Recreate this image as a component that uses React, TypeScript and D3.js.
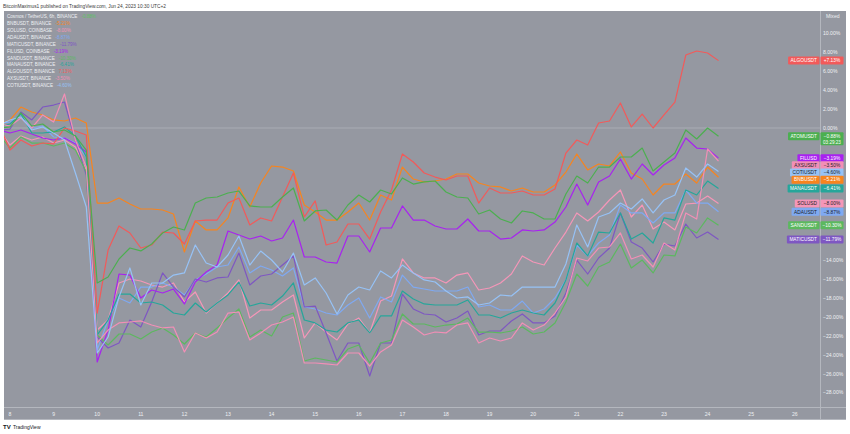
import React from 'react';
import * as d3 from 'd3';

// 6h bars from 2023-06-07 18:00 UTC, percent change
const ATOM = [0, 0.11, 1.59, 0.21, 0.42, -0.42, -0.21, -0.85, -2.33,
  -16.40, -15.77, -13.86, -12.70, -13.01, -12.28, -11.11, -10.48, -10.79, -7.94,
  -7.41, -7.30, -6.88, -6.67, -8.25, -8.36, -8.36, -7.30, -6.35, -9.84,
  -8.78, -8.68, -9.74, -8.15, -7.09, -7.83, -6.56, -6.98, -5.29, -5.93,
  -5.71, -5.61, -6.77, -7.30, -7.41, -9.10, -8.68, -9.63, -10.05, -8.78,
  -8.99, -9.63, -9.63, -6.98, -5.08, -5.82, -4.13, -4.13, -3.07, -3.07,
  -2.12, -4.55, -3.60, -2.65, -0.21, -1.16, 0, -0.88];
const BNB = [0.42, 0.85, 2.22, 1.69, 1.38, 0.85, 0.74, 1.06, 0.53,
  -7.94, -7.94, -7.41, -8.04, -8.57, -8.57, -8.68, -9.10, -13.12, -9.84,
  -10.79, -10.79, -9.52, -6.24, -8.36, -5.82, -4.02, -4.13, -4.55, -8.15,
  -8.89, -9.74, -9.74, -8.89, -7.94, -9.74, -7.09, -7.62, -4.13, -5.40,
  -5.71, -5.61, -5.40, -4.87, -4.87, -5.82, -6.14, -6.24, -6.67, -6.35,
  -6.77, -6.77, -6.03, -4.66, -2.75, -4.44, -3.81, -4.02, -2.54, -4.76,
  -5.40, -7.09, -5.93, -5.93, -4.87, -5.82, -4.13, -5.21];
const SOL = [-0.21, -1.80, -0.85, -1.27, -0.95, -1.59, -1.27, -2.01, -4.44,
  -21.38, -20.32, -16.40, -15.98, -16.19, -16.61, -16.83, -16.40, -18.41, -17.35,
  -19.58, -18.52, -17.46, -16.08, -20.11, -19.26, -19.26, -18.41, -17.67, -22.22,
  -20.63, -21.59, -22.43, -20.74, -20.11, -21.69, -18.31, -17.78, -13.86, -15.34,
  -15.87, -15.87, -16.40, -15.56, -15.34, -17.14, -16.93, -16.40, -15.45, -13.54,
  -14.18, -14.50, -12.70, -11.01, -8.99, -9.84, -8.89, -7.62, -6.56, -9.42,
  -8.15, -10.69, -9.95, -10.79, -8.04, -7.94, -7.20, -8.00];
const ADA = [0.53, 0.63, 1.38, 0, 0.21, -0.95, -1.06, -1.59, -3.07,
  -23.49, -20.32, -17.99, -18.52, -16.83, -16.83, -16.40, -16.83, -17.67, -16.08,
  -15.45, -14.71, -14.50, -12.59, -15.34, -14.60, -15.03, -15.66, -14.81, -18.94,
  -19.15, -19.58, -19.79, -18.73, -17.99, -20.11, -17.88, -18.41, -15.56, -16.83,
  -17.04, -17.25, -17.25, -17.25, -16.83, -18.94, -18.73, -19.26, -19.26, -18.31,
  -19.58, -19.15, -17.99, -16.08, -12.38, -13.54, -12.17, -11.32, -8.15, -8.99,
  -8.99, -10.05, -8.99, -8.99, -6.56, -7.94, -7.94, -8.87];
const MATIC = [-0.21, -0.11, 1.69, 0.85, 2.22, 2.43, 2.75, -1.27, -4.97,
  -22.12, -23.28, -22.75, -20.32, -21.06, -18.41, -15.34, -16.83, -17.88, -15.98,
  -16.30, -15.87, -15.77, -13.23, -16.61, -15.66, -15.45, -14.50, -13.54, -18.94,
  -18.84, -21.69, -24.66, -22.75, -22.75, -26.24, -22.75, -22.75, -17.57, -19.15,
  -19.68, -19.79, -20.53, -20.11, -19.37, -21.90, -21.48, -21.48, -20.42, -19.68,
  -20.63, -20.63, -19.89, -17.46, -13.97, -15.45, -13.76, -12.70, -8.99, -12.06,
  -12.70, -14.18, -12.28, -12.49, -10.16, -11.64, -11.01, -11.79];
const FIL = [-0.21, -0.53, -0.21, -0.63, -1.06, -1.27, -1.06, -1.69, -2.54,
  -24.76, -21.38, -15.45, -15.56, -17.99, -17.14, -17.46, -17.04, -18.62, -16.30,
  -15.24, -14.50, -10.90, -11.32, -11.75, -11.43, -11.96, -11.64, -9.74, -13.65,
  -13.65, -14.18, -14.29, -11.43, -11.43, -13.12, -10.58, -10.58, -8.25, -9.74,
  -9.74, -10.37, -10.69, -10.69, -9.63, -10.90, -10.90, -11.75, -11.64, -10.79,
  -10.90, -10.79, -9.95, -8.36, -5.93, -8.15, -5.71, -5.08, -3.28, -5.40,
  -3.81, -4.97, -3.92, -3.17, -1.06, -2.12, -2.22, -3.19];
const SAND = [-0.74, -2.12, -0.95, -1.59, -1.59, -1.90, -1.59, -2.33, -4.66,
  -21.90, -22.96, -21.80, -21.80, -22.33, -21.59, -21.16, -21.90, -22.86, -21.69,
  -22.12, -21.16, -20.11, -19.15, -22.12, -21.38, -22.01, -20.00, -19.58, -24.66,
  -24.34, -24.55, -24.76, -23.39, -22.96, -24.87, -22.75, -22.43, -19.68, -20.74,
  -20.74, -21.06, -20.85, -20.74, -20.11, -21.59, -21.59, -21.69, -21.48, -21.06,
  -21.80, -21.59, -20.63, -18.41, -15.45, -16.72, -14.71, -14.18, -12.28, -14.82,
  -13.97, -15.34, -13.44, -13.54, -10.48, -11.11, -9.52, -10.30];
const MANA = [0.11, 0.42, 1.48, -0.53, -0.53, -0.42, 0.11, -0.85, -3.07,
  -21.90, -20.32, -17.57, -17.57, -18.52, -18.41, -18.73, -19.58, -19.79, -18.52,
  -19.47, -18.52, -17.67, -16.30, -18.84, -18.52, -18.73, -17.78, -16.40, -20.32,
  -20.63, -21.38, -21.59, -20.63, -20.32, -21.69, -19.89, -19.89, -17.25, -18.10,
  -18.62, -18.73, -18.73, -18.73, -18.20, -19.79, -19.79, -20.11, -19.58, -19.26,
  -19.58, -19.79, -18.52, -16.08, -12.17, -13.54, -11.01, -11.11, -8.99, -11.75,
  -11.11, -12.17, -9.52, -9.74, -6.56, -7.09, -5.61, -6.41];
const ALGO = [0.32, -2.33, -1.27, -1.90, -1.59, -1.69, 0, -0.32, -0.74,
  -19.58, -12.91, -10.37, -11.11, -12.70, -12.38, -11.01, -11.11, -12.28, -9.84,
  -9.74, -9.74, -7.94, -7.41, -10.26, -9.52, -9.84, -7.30, -4.76, -9.42,
  -7.72, -12.38, -12.06, -10.16, -10.16, -11.75, -8.89, -6.56, -2.75, -3.60,
  -4.76, -5.19, -5.50, -5.08, -5.08, -7.94, -6.35, -6.88, -6.88, -6.67,
  -7.09, -7.09, -6.46, -2.65, -1.27, -1.80, 0.53, 0.74, 2.65, 0.11,
  1.48, 0, 1.38, 2.75, 7.72, 8.15, 7.94, 7.13];
const AXS = [0.42, 0.21, 1.06, 0, 1.38, 0.63, 3.60, -1.27, -4.13,
  -22.75, -21.38, -20.63, -20.53, -20.42, -20.85, -21.16, -21.06, -23.70, -21.69,
  -22.22, -21.59, -19.58, -19.47, -22.43, -21.69, -20.85, -20.53, -20.00, -24.87,
  -24.87, -24.97, -25.08, -23.81, -23.81, -25.19, -23.70, -22.96, -20.32, -21.06,
  -21.90, -21.59, -21.69, -20.85, -20.63, -22.75, -22.22, -22.54, -22.22, -20.63,
  -21.38, -20.85, -19.58, -17.88, -13.76, -14.07, -12.70, -12.59, -11.11, -13.86,
  -13.44, -14.71, -12.17, -12.91, -8.99, -9.63, -2.22, -3.50];
const COTI = [0.32, 0.85, 1.16, -0.21, 0.11, -0.53, -1.27, -4.76, -8.36,
  -23.81, -22.12, -17.88, -14.81, -18.73, -16.40, -16.40, -15.56, -15.34, -12.38,
  -14.29, -14.71, -13.44, -11.43, -14.50, -13.02, -13.97, -15.24, -13.23, -16.61,
  -15.87, -17.46, -19.68, -17.67, -16.83, -17.14, -15.13, -15.87, -14.50, -15.34,
  -16.08, -16.30, -17.25, -17.99, -17.88, -18.73, -18.52, -17.67, -17.78, -16.83,
  -16.83, -16.83, -16.83, -14.39, -10.26, -12.59, -9.42, -8.99, -7.94, -8.57,
  -7.51, -8.99, -7.62, -7.09, -4.23, -5.19, -3.81, -4.60];

const SERIES_NAMES = ['BNBUSDT, BINANCE', 'SOLUSD, COINBASE', 'ADAUSDT, BINANCE', 'MATICUSDT, BINANCE', 'FILUSD, COINBASE', 'SANDUSDT, BINANCE', 'MANAUSDT, BINANCE', 'ALGOUSDT, BINANCE', 'AXSUSDT, BINANCE', 'COTIUSDT, BINANCE'];
const TAG_NAMES = ['BNBUSDT', 'SOLUSD', 'ADAUSDT', 'MATICUSDT', 'FILUSD', 'SANDUSDT', 'MANAUSDT', 'ALGOUSDT', 'AXSUSDT', 'COTIUSDT'];
const SERIES_VALUES = [BNB, SOL, ADA, MATIC, FIL, SAND, MANA, ALGO, AXS, COTI];
const SERIES_COLORS = ['#f7841e', '#f596b8', '#7fa9f2', '#7e57c2', '#a822f0', '#5cb85f', '#26a69a', '#f25a5a', '#f28fb6', '#96c2f6'];
const LIGHT_TAG = [false, true, true, false, false, false, false, false, true, true];
const MAIN_NAME = 'Cosmos / TetherUS, 6h, BINANCE';
const MAIN_COLOR = '#4caf50';
const DAY_TICKS = [8, 9, 10, 11, 12, 13, 14, 15, 16, 17, 18, 19, 20, 21, 22, 23, 24, 25, 26];
const PCT_TICKS = [10, 8, 6, 4, 2, 0, -2, -4, -6, -8, -10, -12, -14, -16, -18, -20, -22, -24, -26, -28];

const START = Date.UTC(2023, 5, 7, 18);
const STEP = 6 * 3600 * 1000;

const FONT = "'Liberation Sans', Arial, sans-serif";
const BG = '#9598a1';
const TEXT = '#eef0f3';

const fmt = (v: number) => (v < 0 ? '\u2212' : '') + Math.abs(v).toFixed(2) + '%';
const fmtLeg = (v: number) => (v < 0 ? '-' : '') + Math.abs(v).toFixed(2) + '%';

let ctx: CanvasRenderingContext2D | null = null;
function measure(t: string, size: number) {
  if (!ctx) ctx = document.createElement('canvas').getContext('2d');
  if (!ctx) return t.length * size * 0.55;
  ctx.font = `${size}px ${FONT}`;
  return ctx.measureText(t).width;
}

export default function App() {
  const L = 4, R = 846, T = 11, B = 420, PR = 820, PB = 407;
  const x = d3.scaleUtc()
    .domain([new Date(Date.UTC(2023, 5, 8)), new Date(Date.UTC(2023, 5, 26))])
    .range([10, 794.8]);
  const y = d3.scaleLinear().domain([0, -28]).range([128, 392.6]);
  const line = d3.line<number>()
    .x((_, i) => x(new Date(START + i * STEP)))
    .y((d) => y(d));

  const all = [
    ...SERIES_VALUES.map((vals, k) => ({ vals, color: SERIES_COLORS[k], tag: TAG_NAMES[k], light: LIGHT_TAG[k], main: false })),
    { vals: ATOM, color: MAIN_COLOR, tag: 'ATOMUSDT', light: false, main: true },
  ];

  // tag placement with overlap avoidance
  const tags = all.map((s) => {
    const last = s.vals[s.vals.length - 1];
    return { ...s, last, ty: y(last) };
  }).sort((a, b) => a.ty - b.ty);
  for (let i = 1; i < tags.length; i++) {
    const gap = tags[i - 1].main ? 14 : 7.2;
    if (tags[i].ty < tags[i - 1].ty + gap) tags[i].ty = tags[i - 1].ty + gap;
  }
  const covered = (py: number) => tags.some((t) => py > t.ty - 7 && py < t.ty + (t.main ? 12 : 7));

  const fs = 5.1;
  const lfs = 4.6;
  return (
    <svg width={850} height={434} style={{ position: 'absolute', left: 0, top: 0, display: 'block' }} fontFamily={FONT}>
      <rect x={0} y={0} width={850} height={434} fill="#ffffff" />
      <text x={3} y={7.5} fontSize={4.8} fill="#3a3a3a">BitcoinMaximus1 published on TradingView.com, Jun 24, 2023 10:30 UTC+2</text>
      <rect x={L} y={T} width={R - L} height={B - T} fill={BG} />
      <defs>
        <clipPath id="plot"><rect x={L} y={T} width={PR - L} height={PB - T} /></clipPath>
      </defs>
      {/* separators */}
      <line x1={PR + 0.5} x2={PR + 0.5} y1={T} y2={B} stroke="#b4b7be" strokeWidth={1} />
      <line x1={L} x2={R} y1={PB + 0.5} y2={PB + 0.5} stroke="#b4b7be" strokeWidth={1} />
      <line x1={L} x2={R} y1={B - 0.5} y2={B - 0.5} stroke="#b4b7be" strokeWidth={1} />
      {/* zero line */}
      <line x1={L} x2={PR} y1={y(0)} y2={y(0)} stroke="#a9acb4" strokeWidth={1} />
      <g clipPath="url(#plot)">
        {all.map((s, k) => (
          <path key={k} d={line(s.vals) || ''} fill="none" stroke={s.color} strokeWidth={1.2} strokeLinejoin="round" />
        ))}
      </g>
      {/* price axis */}
      <text x={826} y={18} fontSize={fs} fill={TEXT}>Mixed</text>
      {PCT_TICKS.filter((t) => !covered(y(t))).map((t) => (
        <text key={t} x={823} y={y(t) + 1.8} fontSize={fs} fill={TEXT}>{fmt(t)}</text>
      ))}
      {/* time axis */}
      {DAY_TICKS.map((d) => (
        <text key={d} x={x(new Date(Date.UTC(2023, 5, d)))} y={415.5} fontSize={fs} fill={TEXT} textAnchor="middle">{d}</text>
      ))}
      {/* tags */}
      {tags.map((s, k) => {
        const nw = measure(s.tag, 4.8) + 5;
        const val = (s.last > 0 ? '+' : '') + fmt(s.last);
        const tc = s.light ? '#1b1e26' : '#ffffff';
        return (
          <g key={k}>
            <rect x={819.5 - nw} y={s.ty - 4} width={nw} height={8} fill={s.color} rx={1} />
            <text x={819.5 - nw / 2} y={s.ty + 1.7} fontSize={4.8} fill={tc} textAnchor="middle">{s.tag}</text>
            <rect x={820.5} y={s.ty - 4} width={23} height={s.main ? 13 : 8} fill={s.color} rx={1} />
            <text x={832} y={s.ty + 1.7} fontSize={4.8} fill={tc} textAnchor="middle">{val}</text>
            {s.main && <text x={832} y={s.ty + 7.4} fontSize={4.6} fill={tc} textAnchor="middle">03:29:23</text>}
          </g>
        );
      })}
      {/* legend */}
      <text x={7} y={18} fontSize={lfs} fill={TEXT}>
        <tspan>{MAIN_NAME}</tspan>
        <tspan dx={4} fill="#5ec262">{fmtLeg(ATOM[ATOM.length - 1])}</tspan>
      </text>
      {SERIES_NAMES.map((n, k) => {
        const v = SERIES_VALUES[k][SERIES_VALUES[k].length - 1];
        return (
          <text key={n} x={7} y={25 + k * 6.9} fontSize={lfs} fill={TEXT}>
            <tspan>{n}</tspan>
            <tspan dx={4} fill={SERIES_COLORS[k]}>{fmtLeg(v)}</tspan>
          </text>
        );
      })}
      {/* footer */}
      <text x={3} y={429} fontSize={6} fontWeight="bold" fill="#131722">TV</text>
      <text x={13} y={429} fontSize={5} fill="#131722">TradingView</text>
    </svg>
  );
}
